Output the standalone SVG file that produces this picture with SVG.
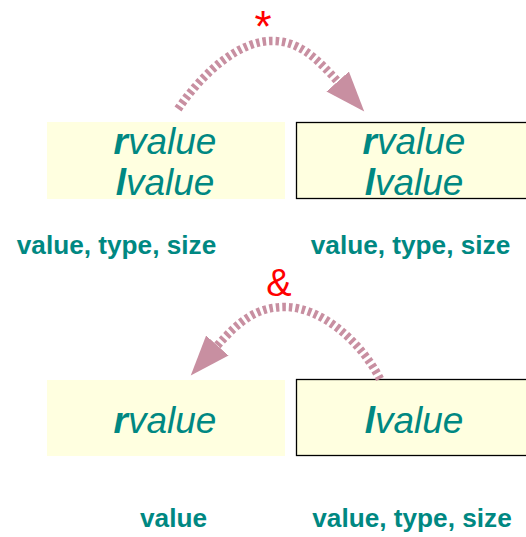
<svg xmlns="http://www.w3.org/2000/svg" width="526" height="537" viewBox="0 0 526 537">
<style>
.box{fill:#FFFFE0}
.bx{fill:#FFFFE0;stroke:#000;stroke-width:1.3}
.big{font-family:"Liberation Sans",Arial,sans-serif;font-size:37px;font-style:italic;fill:#008882;text-anchor:middle}
.big tspan.b{font-weight:bold}
.lbl{font-family:"Liberation Sans",Arial,sans-serif;font-size:26.2px;font-weight:bold;fill:#008882;text-anchor:middle}
.op{font-family:"Liberation Sans",Arial,sans-serif;fill:#FF0000;text-anchor:middle}
.arc{fill:none;stroke:#C88FA1;stroke-width:8.5;stroke-dasharray:3.5 3}
</style>
<defs>
<marker id="ah" markerUnits="userSpaceOnUse" markerWidth="44" markerHeight="34" refX="2" refY="15" orient="auto" viewBox="0 0 44 30">
<path d="M0,0 L40,15 L0,30 Z" fill="#C88FA1"/>
</marker>
</defs>
<g id="node-top-left">
<rect class="box" x="47" y="122" width="238" height="77"/>
<text class="big" x="165" y="154"><tspan class="b">r</tspan>value</text>
<text class="big" x="165" y="195"><tspan class="b">l</tspan>value</text>
</g>
<g id="node-top-right">
<rect class="bx" x="296.5" y="122.5" width="240" height="76"/>
<text class="big" x="414" y="154"><tspan class="b">r</tspan>value</text>
<text class="big" x="414" y="195"><tspan class="b">l</tspan>value</text>
</g>
<g id="label-top-left"><text class="lbl" x="116.5" y="254">value, type, size</text></g>
<g id="label-top-right"><text class="lbl" x="410.5" y="254">value, type, size</text></g>
<g id="node-bottom-left">
<rect class="box" x="47" y="380" width="238" height="76"/>
<text class="big" x="165" y="433"><tspan class="b">r</tspan>value</text>
</g>
<g id="node-bottom-right">
<rect class="bx" x="296.5" y="379.5" width="240" height="76"/>
<text class="big" x="414" y="433"><tspan class="b">l</tspan>value</text>
</g>
<g id="label-bottom-left"><text class="lbl" x="173.5" y="527">value</text></g>
<g id="label-bottom-right"><text class="lbl" x="412" y="527">value, type, size</text></g>
<g id="connectors">
<path class="arc" d="M178,109 C205,70 240,41 272,41 C298,41 315,56 339,83" marker-end="url(#ah)"/>
<text class="op" x="263" y="42" font-size="44">*</text>
<path class="arc" d="M380,379 C360,340 320,307 285,307 C257,307 240,320 216,347" marker-end="url(#ah)"/>
<text class="op" x="279" y="296" font-size="38">&amp;</text>
</g>
</svg>
